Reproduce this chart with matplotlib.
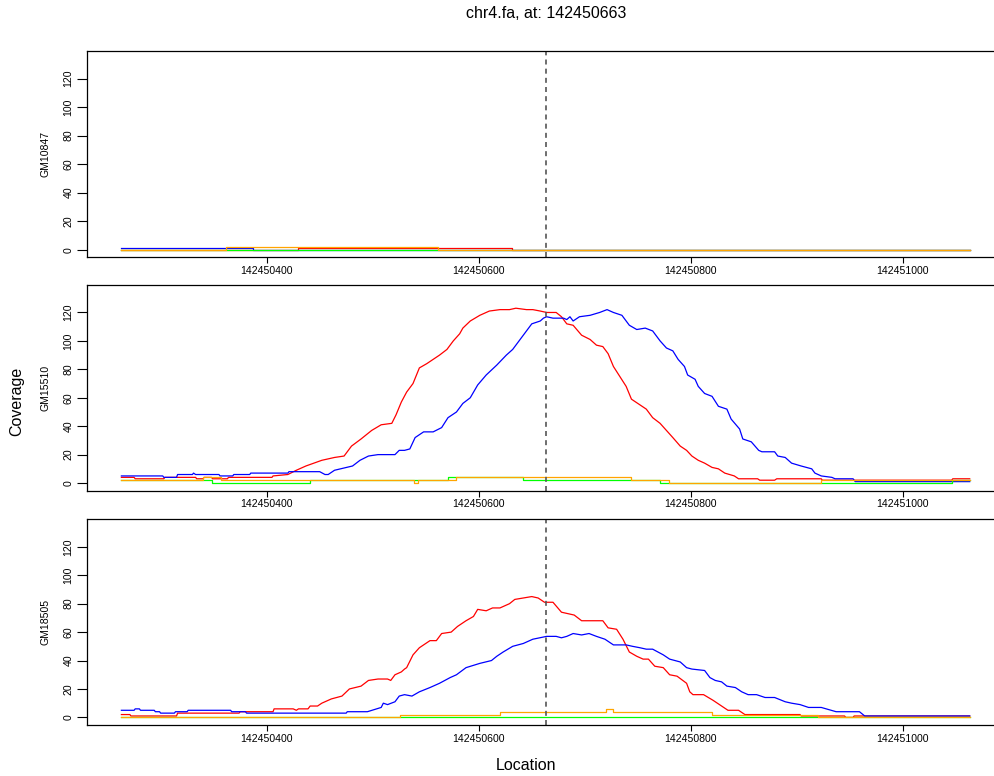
import numpy as np
import matplotlib
matplotlib.use("Agg")
import matplotlib.pyplot as plt

plt.rcParams["font.family"] = ["Liberation Sans", "DejaVu Sans"]

# ==== Dados ====
CHROM = "chr4.fa"
SNP = 142450663
START = 142450263          # offsets below are relative to this position
END = 142451063
samples = ["GM10847", "GM15510", "GM18505"]
x_ticks = [142450400, 142450600, 142450800, 142451000]
y_ticks = [0, 20, 40, 60, 80, 100, 120]

# GM10847
gm10847_red_x = [0, 167, 368, 800]
gm10847_red_y = [0, 1, 0, 0]
gm10847_blue_x = [0, 124, 800]
gm10847_blue_y = [1, 0, 0]
gm10847_green_x = [0, 800]
gm10847_green_y = [0, 0]
gm10847_orange_x = [0, 99, 299, 800]
gm10847_orange_y = [0, 2, 0, 0]

# GM15510
gm15510_red_x = [0, 12, 13, 40, 41, 70, 71, 77, 78, 85, 86, 100, 101, 142, 143, 157, 165, 174,
                 189, 201, 210, 217, 226, 236, 245, 255, 259, 264, 269, 275, 281, 288, 294, 300,
                 307, 313, 319, 322, 329, 338, 347, 357, 366, 372, 382, 388, 395, 401, 410, 415,
                 420, 426, 434, 442, 448, 454, 459, 464, 470, 476, 481, 489, 495, 501, 508, 514,
                 520, 527, 533, 538, 544, 550, 557, 563, 569, 578, 582, 600, 602, 616, 618, 660,
                 661, 783, 784, 800]
gm15510_red_y = [4, 4, 3, 3, 4, 4, 3, 3, 4, 4, 3, 3, 4, 4, 5, 6, 9, 12,
                 16, 18, 19, 26, 31, 37, 41, 42, 48, 57, 64, 70, 81, 84, 87, 90,
                 94, 100, 105, 109, 114, 118, 121, 122, 122, 123, 122, 122, 121, 120, 120, 117,
                 112, 111, 104, 101, 97, 96, 91, 82, 75, 68, 59, 55, 52, 46, 42, 37,
                 32, 26, 23, 19, 16, 14, 11, 10, 7, 5, 3, 3, 2, 2, 3, 3,
                 2, 2, 3, 3]
gm15510_blue_x = [0, 39, 40, 52, 53, 67, 68, 70, 92, 93, 105, 106, 121, 122, 157, 158, 187, 192,
                  195, 201, 218, 225, 233, 242, 251, 258, 262, 267, 272, 277, 285, 294, 302, 308,
                  316, 322, 329, 336, 344, 354, 363, 369, 376, 382, 387, 395, 398, 401, 407, 417,
                  420, 423, 426, 432, 442, 451, 458, 464, 472, 479, 486, 494, 501, 508, 514, 520,
                  525, 531, 534, 541, 544, 550, 557, 563, 571, 575, 583, 586, 594, 601, 604, 616,
                  619, 626, 632, 641, 651, 654, 660, 670, 673, 690, 692, 800]
gm15510_blue_y = [5, 5, 4, 4, 6, 6, 7, 6, 6, 5, 5, 6, 6, 7, 7, 8, 8, 6,
                  6, 9, 12, 16, 19, 20, 20, 20, 23, 23, 24, 32, 36, 36, 39, 46,
                  50, 56, 60, 69, 76, 83, 90, 94, 101, 107, 112, 114, 116, 117, 116, 116,
                  115, 117, 114, 117, 118, 120, 122, 120, 118, 111, 108, 109, 107, 100, 95, 93,
                  87, 82, 76, 73, 68, 63, 61, 54, 52, 45, 38, 31, 29, 23, 22, 22,
                  19, 18, 14, 12, 10, 7, 5, 4, 3, 3, 1, 1]
gm15510_green_x = [0, 85, 178, 308, 379, 508, 783, 800]
gm15510_green_y = [2, 0, 2, 4, 2, 0, 2, 2]
gm15510_orange_x = [0, 77, 94, 276, 280, 316, 481, 516, 660, 800]
gm15510_orange_y = [2, 4, 2, 0, 2, 4, 2, 0, 2, 2]

# GM18505
gm18505_red_x = [0, 8, 9, 52, 53, 111, 112, 143, 144, 162, 165, 167, 176, 178, 185, 189, 198,
                 208, 215, 226, 233, 242, 251, 254, 258, 264, 267, 269, 275, 281, 291, 297, 302,
                 311, 317, 325, 332, 336, 344, 350, 357, 366, 371, 379, 387, 393, 399, 407, 415,
                 421, 427, 434, 441, 454, 459, 467, 473, 479, 486, 492, 497, 503, 511, 517, 524,
                 533, 536, 539, 549, 558, 566, 572, 582, 588, 640, 641, 682, 683, 690, 691, 800]
gm18505_red_y = [2, 2, 1, 1, 3, 3, 4, 4, 6, 6, 5, 6, 6, 8, 8, 10, 13,
                 15, 20, 22, 26, 27, 27, 26, 30, 32, 34, 35, 44, 49, 54, 54, 59,
                 60, 64, 68, 71, 76, 75, 77, 77, 80, 83, 84, 85, 84, 81, 81, 74,
                 73, 72, 68, 68, 68, 63, 62, 55, 46, 43, 41, 41, 36, 35, 30, 29,
                 24, 18, 16, 16, 12, 8, 5, 5, 2, 2, 1, 1, 0, 0, 1, 1]
gm18505_blue_x = [0, 12, 13, 17, 18, 31, 32, 36, 37, 50, 51, 62, 63, 103, 104, 117, 118, 212,
                  213, 232, 245, 247, 251, 258, 262, 267, 274, 281, 291, 300, 310, 316, 325, 338,
                  349, 354, 360, 369, 379, 388, 401, 410, 415, 420, 426, 434, 441, 448, 456, 464,
                  476, 482, 489, 495, 501, 511, 517, 527, 533, 538, 550, 555, 560, 566, 571, 579,
                  585, 591, 599, 607, 616, 626, 632, 640, 648, 660, 674, 696, 701, 800]
gm18505_blue_y = [5, 5, 6, 6, 5, 5, 4, 4, 3, 3, 4, 4, 5, 5, 4, 4, 3, 3,
                  4, 4, 7, 10, 9, 11, 15, 16, 15, 18, 21, 24, 28, 30, 35, 38,
                  40, 43, 46, 50, 52, 55, 57, 57, 56, 57, 59, 58, 59, 57, 55, 51,
                  51, 50, 49, 48, 48, 44, 41, 39, 35, 34, 33, 28, 26, 25, 22, 21,
                  18, 16, 16, 14, 14, 11, 10, 9, 7, 7, 4, 4, 1, 1]
gm18505_green_x = [0, 800]
gm18505_green_y = [0, 0]
gm18505_orange_x = [0, 263, 357, 457, 464, 557, 657, 800]
gm18505_orange_y = [0, 2, 4, 6, 4, 2, 0, 0]

panels = [
    (gm10847_red_x, gm10847_red_y, gm10847_blue_x, gm10847_blue_y,
     gm10847_green_x, gm10847_green_y, gm10847_orange_x, gm10847_orange_y, True),
    (gm15510_red_x, gm15510_red_y, gm15510_blue_x, gm15510_blue_y,
     gm15510_green_x, gm15510_green_y, gm15510_orange_x, gm15510_orange_y, False),
    (gm18505_red_x, gm18505_red_y, gm18505_blue_x, gm18505_blue_y,
     gm18505_green_x, gm18505_green_y, gm18505_orange_x, gm18505_orange_y, False),
]

# ==== Figura ====
fig = plt.figure(figsize=(9.95, 7.76), dpi=100)

span = END - START
xlim = (START - 0.04 * span, END + 0.04 * span)
ymax = 134
ylim = (-0.04 * ymax, 1.04 * ymax)

bottoms = [0.6684, 0.3677, 0.0657]
heights = [0.2659, 0.2651, 0.2651]

for i, (rx, ry, bx, by, gx, gy, ox, oy, flat) in enumerate(panels):
    ax = fig.add_axes([0.0879, bottoms[i], 0.9208, heights[i]])
    ds = "steps-post" if flat else "default"
    ax.plot(START + np.array(rx), ry, color="#FF0000", lw=0.9, drawstyle=ds)
    ax.plot(START + np.array(bx), by, color="#0000FF", lw=0.9, drawstyle=ds)
    ax.plot(START + np.array(gx), gy, color="#00FF00", lw=0.9, drawstyle="steps-post")
    ax.plot(START + np.array(ox), oy, color="#FFA500", lw=0.9, drawstyle="steps-post")
    ax.axvline(SNP, color="#555555", lw=1.2, linestyle=(0, (3, 2.5)))

    ax.set_xlim(*xlim)
    ax.set_ylim(*ylim)
    ax.set_xticks(x_ticks)
    ax.set_xticklabels([str(t) for t in x_ticks], fontsize=7.6)
    ax.set_yticks(y_ticks)
    ax.set_yticklabels([str(t) for t in y_ticks], fontsize=7.6, rotation=90, va="center")
    ax.tick_params(axis="x", length=4.3, width=0.8, pad=2)
    ax.tick_params(axis="y", length=7.2, width=0.8, pad=3)
    for s in ax.spines.values():
        s.set_linewidth(0.9)
    ax.set_ylabel(samples[i], fontsize=7.6, labelpad=9)

fig.text(546 / 995, 1 - 14 / 776, f"{CHROM}, at: {SNP}", ha="center", va="center", fontsize=11.5)
fig.text(526.5 / 995, 1 - 766 / 776, "Location", ha="center", va="center", fontsize=11.5)
fig.text(17 / 995, 1 - 401 / 776, "Coverage", ha="center", va="center", rotation=90, fontsize=11.5)

fig.savefig("out.png", dpi=100)
